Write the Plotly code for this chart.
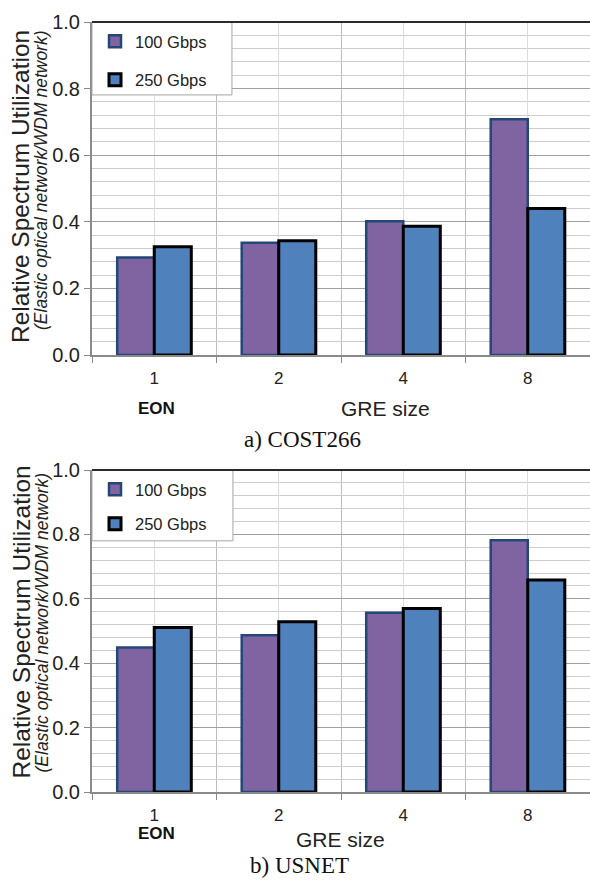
import plotly.graph_objects as go

# GRE sizes on the x axis (1 = EON)
gre_sizes = ["1", "2", "4", "8"]
series_names = ["100 Gbps", "250 Gbps"]

# Relative spectrum utilization (EON / WDM), COST266 network
cost266_100g = [0.293, 0.337, 0.402, 0.708]
cost266_250g = [0.325, 0.343, 0.387, 0.440]

# Relative spectrum utilization (EON / WDM), USNET network
usnet_100g = [0.449, 0.487, 0.557, 0.782]
usnet_250g = [0.511, 0.529, 0.570, 0.658]

y_ticks = [0.0, 0.2, 0.4, 0.6, 0.8, 1.0]

W, H = 590, 882
ML, MR, MT, MB = 92, 0, 22, 90
PW, PH = W - ML - MR, H - MT - MB


def px_x(px):
    return (px - ML) / PW


def px_y(py):
    return (H - MB - py) / PH


FONT = "Liberation Sans, Arial, sans-serif"
SERIF = "Liberation Serif, Times New Roman, serif"
PURPLE, PURPLE_EDGE = "#8064A2", "#24477A"
BLUE, BLUE_EDGE = "#4F81BD", "#000000"

positions = list(range(len(gre_sizes)))

fig = go.Figure()
panels = [
    (cost266_100g, cost266_250g, "x", "y", "legend"),
    (usnet_100g, usnet_250g, "x2", "y2", "legend2"),
]
for v100, v250, xa, ya, lg in panels:
    fig.add_trace(go.Bar(
        x=positions, y=v100, name=series_names[0], xaxis=xa, yaxis=ya,
        legend=lg, legendgroup="a",
        marker=dict(color=PURPLE, line=dict(color=PURPLE_EDGE, width=2.5)),
    ))
    fig.add_trace(go.Bar(
        x=positions, y=v250, name=series_names[1], xaxis=xa, yaxis=ya,
        legend=lg, legendgroup="b",
        marker=dict(color=BLUE, line=dict(color=BLUE_EDGE, width=3)),
    ))

xaxis_style = dict(
    range=[-0.5, len(gre_sizes) - 0.5],
    tickmode="array", tickvals=positions, ticktext=gre_sizes,
    ticks="", showgrid=True, gridcolor="#DCDCDC", gridwidth=1,
    showline=True, linecolor="#8A8A8A", linewidth=2,
    zeroline=False, ticklabelstandoff=7,
    tickfont=dict(family=FONT, size=17, color="#222"),
    minor=dict(tick0=0.5, dtick=1, showgrid=True, gridcolor="#BDBDBD",
               gridwidth=1, ticks="outside", ticklen=6, tickcolor="#8A8A8A",
               tickwidth=1),
    fixedrange=True,
)
yaxis_style = dict(
    range=[0, 1.0], tickmode="array", tickvals=y_ticks, tickformat=".1f",
    ticks="outside", ticklen=6, tickcolor="#8A8A8A", tickwidth=1,
    showgrid=True, gridcolor="#A0A0A0", gridwidth=1,
    showline=True, linecolor="#8A8A8A", linewidth=2,
    zeroline=False,
    tickfont=dict(family=FONT, size=20, color="#222"),
    minor=dict(dtick=0.04, showgrid=True, gridcolor="#CCCCCC", gridwidth=1),
    fixedrange=True,
)

top_dom = [px_y(355), 1.0]
bot_dom = [0.0, px_y(470)]

fig.update_layout(
    width=W, height=H,
    margin=dict(l=ML, r=MR, t=MT, b=MB),
    paper_bgcolor="white", plot_bgcolor="white",
    barmode="group", bargap=0.405, bargroupgap=0.0,
    xaxis=dict(xaxis_style, anchor="y", domain=[0, 1]),
    yaxis=dict(yaxis_style, anchor="x", domain=top_dom),
    xaxis2=dict(xaxis_style, anchor="y2", domain=[0, 1]),
    yaxis2=dict(yaxis_style, anchor="x2", domain=bot_dom),
    font=dict(family=FONT, color="#222"),
    showlegend=True,
)

legend_common = dict(
    bgcolor="rgba(0,0,0,0)", borderwidth=0,
    font=dict(family=FONT, size=16.5, color="#222"),
    xanchor="left", yanchor="top",
    itemclick=False, itemdoubleclick=False,
)
fig.update_layout(
    legend=dict(legend_common, x=px_x(95), y=px_y(24), tracegroupgap=14),
    legend2=dict(legend_common, x=px_x(95), y=px_y(472), tracegroupgap=10),
)

# Legend frames and the dark top border of each plot
for xr, yr, box_r, box_b in [("x domain", "y domain", 0.281, 0.781),
                             ("x2 domain", "y2 domain", 0.283, 0.78)]:
    fig.add_shape(type="rect", xref=xr, yref=yr, x0=0.0, x1=box_r,
                  y0=box_b, y1=1.0, fillcolor="white",
                  line=dict(color="#A6A6A6", width=1), layer="above")
    fig.add_shape(type="line", xref=xr, yref=yr, x0=0, x1=1, y0=1, y1=1,
                  line=dict(color="#2A2A2A", width=2), layer="above")

annotations = []
# Y axis titles (two lines, rotated)
for cx_main, cy_main, cx_sub, cy_sub in [(20, 187, 41, 180), (20.5, 622, 41.5, 623)]:
    annotations.append(dict(
        text="Relative Spectrum Utilization", xref="paper", yref="paper",
        x=px_x(cx_main), y=px_y(cy_main), xanchor="center", yanchor="middle",
        textangle=-90, showarrow=False,
        font=dict(family=FONT, size=24.5, color="#222")))
    annotations.append(dict(
        text="<i>(Elastic optical network/WDM network)</i>",
        xref="paper", yref="paper",
        x=px_x(cx_sub), y=px_y(cy_sub), xanchor="center", yanchor="middle",
        textangle=-90, showarrow=False,
        font=dict(family=FONT, size=17.5, color="#222")))

# "EON" label under GRE size 1, axis titles and panel captions
for xa, eon_y, gre_x, gre_y, cap, cap_x, cap_y in [
    ("x", 408, 385, 408, "a) COST266", 302, 439),
    ("x2", 833, 340, 839, "b) USNET", 299, 865),
]:
    annotations.append(dict(
        text="<b>EON</b>", xref=xa, yref="paper", x=positions[0] + 0.015,
        y=px_y(eon_y), xanchor="center", yanchor="middle", showarrow=False,
        font=dict(family=FONT, size=17, color="#111")))
    annotations.append(dict(
        text="GRE size", xref="paper", yref="paper", x=px_x(gre_x),
        y=px_y(gre_y), xanchor="center", yanchor="middle", showarrow=False,
        font=dict(family=FONT, size=21, color="#222")))
    annotations.append(dict(
        text=cap, xref="paper", yref="paper", x=px_x(cap_x), y=px_y(cap_y),
        xanchor="center", yanchor="middle", showarrow=False,
        font=dict(family=SERIF, size=23, color="#111")))

fig.update_layout(annotations=annotations)

fig.write_html("out.html", config={"displayModeBar": False})
